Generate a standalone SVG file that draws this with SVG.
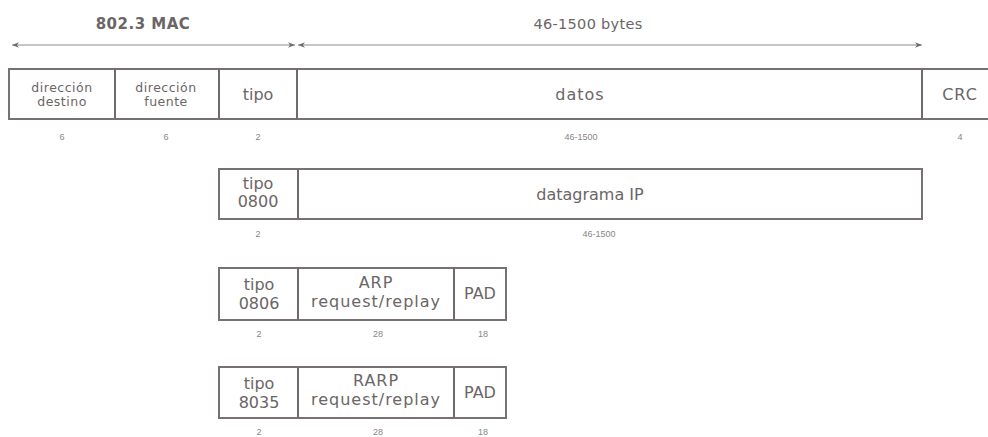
<svg xmlns="http://www.w3.org/2000/svg" width="988" height="437" viewBox="0 0 988 437">
<defs>
<style>
.box{fill:#fff;stroke:#777172;stroke-width:2}
.div{stroke:#6f6a6b;stroke-width:2}
.t{font-family:"DejaVu Sans","Liberation Sans",sans-serif;fill:#6b6566;text-anchor:middle}
.big{font-size:16px}
.wide{letter-spacing:1px}
.sm{font-size:12.5px;letter-spacing:0.5px}
.num{font-family:"Liberation Sans",sans-serif;font-size:9px;fill:#8a8585;text-anchor:middle}
.hdr{font-family:"DejaVu Sans","Liberation Sans",sans-serif;font-size:15px;font-weight:bold;fill:#6b6566;text-anchor:middle}
.arr{stroke:#8e898a;stroke-width:1.2;fill:none}
</style>
<marker id="ah" viewBox="0 0 10 10" refX="10" refY="5" markerWidth="8" markerHeight="7" orient="auto-start-reverse" markerUnits="userSpaceOnUse">
<path d="M0,1 L10,5 L0,9 L3,5 z" fill="#6f6a6b"/>
</marker>
</defs>
<rect width="988" height="437" fill="#fff"/>

<g id="connectors">
<line class="arr" x1="12" y1="45" x2="295" y2="45" marker-start="url(#ah)" marker-end="url(#ah)"/>
<line class="arr" x1="298" y1="45" x2="922" y2="45" marker-start="url(#ah)" marker-end="url(#ah)"/>
</g>

<g id="labels">
<text class="hdr" x="143" y="29" style="letter-spacing:0.5px">802.3 MAC</text>
<text class="hdr" x="588" y="29" style="font-weight:normal;font-size:14.5px;letter-spacing:0.3px">46-1500 bytes</text>
</g>

<g id="frame-ethernet">
<rect class="box" x="9" y="69" width="985" height="50"/>
<line class="div" x1="115" y1="69" x2="115" y2="119"/>
<line class="div" x1="219" y1="69" x2="219" y2="119"/>
<line class="div" x1="297" y1="69" x2="297" y2="119"/>
<line class="div" x1="922" y1="69" x2="922" y2="119"/>
<text class="t sm" x="62" y="92">dirección</text>
<text class="t sm" x="62" y="106">destino</text>
<text class="t sm" x="166" y="92">dirección</text>
<text class="t sm" x="166" y="106">fuente</text>
<text class="t big" x="258" y="100">tipo</text>
<text class="t big wide" x="580" y="100">datos</text>
<text class="t big wide" x="960" y="100">CRC</text>
<text class="num" x="62" y="140">6</text>
<text class="num" x="166" y="140">6</text>
<text class="num" x="258" y="140">2</text>
<text class="num" x="581" y="140">46-1500</text>
<text class="num" x="960" y="140">4</text>
</g>

<g id="frame-ip">
<rect class="box" x="219" y="169" width="703" height="50"/>
<line class="div" x1="298" y1="169" x2="298" y2="219"/>
<text class="t big" x="258" y="189">tipo</text>
<text class="t big" x="258" y="207">0800</text>
<text class="t big" x="590" y="200">datagrama IP</text>
<text class="num" x="258" y="237">2</text>
<text class="num" x="599" y="237">46-1500</text>
</g>

<g id="frame-arp">
<rect class="box" x="219" y="268" width="287" height="52"/>
<line class="div" x1="298" y1="268" x2="298" y2="320"/>
<line class="div" x1="454" y1="268" x2="454" y2="320"/>
<text class="t big" x="259" y="290">tipo</text>
<text class="t big" x="259" y="309">0806</text>
<text class="t big wide" x="376" y="288">ARP</text>
<text class="t big wide" x="376" y="307">request/replay</text>
<text class="t big" x="480" y="299">PAD</text>
<text class="num" x="259" y="337">2</text>
<text class="num" x="378" y="337">28</text>
<text class="num" x="483" y="337">18</text>
</g>

<g id="frame-rarp">
<rect class="box" x="219" y="367" width="287" height="51"/>
<line class="div" x1="298" y1="367" x2="298" y2="418"/>
<line class="div" x1="454" y1="367" x2="454" y2="418"/>
<text class="t big" x="259" y="389">tipo</text>
<text class="t big" x="259" y="408">8035</text>
<text class="t big wide" x="376" y="386">RARP</text>
<text class="t big wide" x="376" y="405">request/replay</text>
<text class="t big" x="480" y="398">PAD</text>
<text class="num" x="259" y="435">2</text>
<text class="num" x="378" y="435">28</text>
<text class="num" x="483" y="435">18</text>
</g>
</svg>
